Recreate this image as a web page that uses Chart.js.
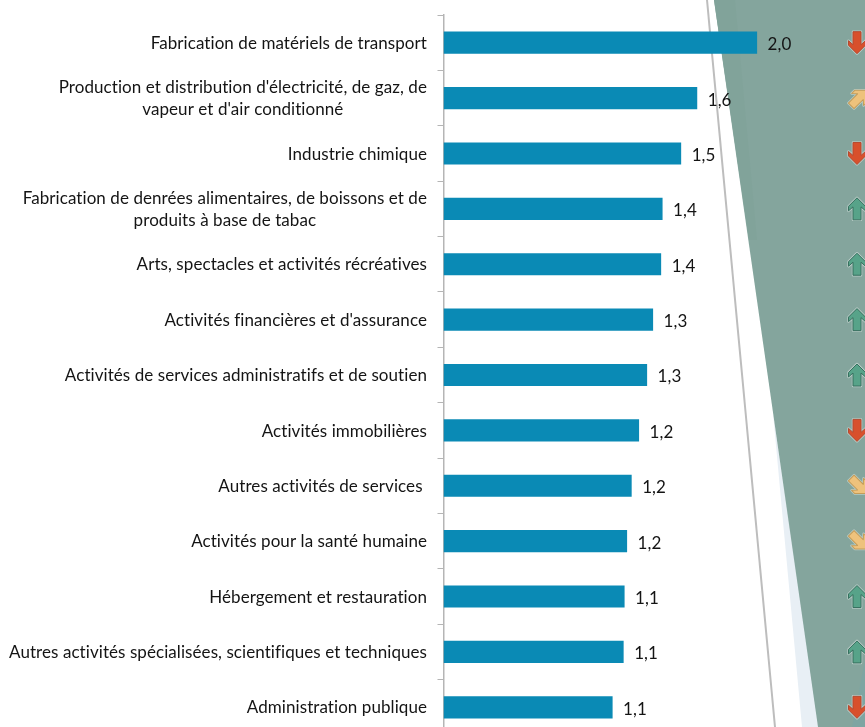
<!DOCTYPE html>
<html lang="fr">
<head>
<meta charset="utf-8">
<title>Activités</title>
<script src="https://cdn.jsdelivr.net/npm/chart.js@4"></script>
<style>
html, body { margin: 0; padding: 0; background: #fff; overflow: hidden; width: 865px; height: 727px; }
canvas { display: block; }
</style>
</head>
<body>
<canvas id="chart" width="865" height="760"></canvas>
<script>
// data
const categories = [
    ['Fabrication de matériels de transport'],
    ["Production et distribution d'électricité, de gaz, de", "vapeur et d'air conditionné"],
    ['Industrie chimique'],
    ['Fabrication de denrées alimentaires, de boissons et de', 'produits à base de tabac'],
    ['Arts, spectacles et activités récréatives'],
    ["Activités financières et d'assurance"],
    ['Activités de services administratifs et de soutien'],
    ['Activités immobilières'],
    ['Autres activités de services '],
    ['Activités pour la santé humaine'],
    ['Hébergement et restauration'],
    ['Autres activités spécialisées, scientifiques et techniques'],
    ['Administration publique']
];
const values = [1.99, 1.61, 1.508, 1.39, 1.381, 1.33, 1.292, 1.241, 1.194, 1.165, 1.149, 1.143, 1.073];
const trends = ['down', 'ne', 'down', 'up', 'up', 'up', 'up', 'down', 'se', 'se', 'up', 'up', 'down'];

const FONT = '17px Lato, sans-serif';
const TEXT = '#141414';
const trendColors = {
    down: ['#d8502c', '#b5492f'],
    up: ['#57a389', '#37705f'],
    ne: ['#eec27c', '#c49c58'],
    se: ['#eec27c', '#c49c58']
};
const trendAngles = { up: 0, ne: Math.PI / 4, se: Math.PI * 3 / 4, down: Math.PI };
const trendX = { up: 857, down: 857, ne: 859, se: 859 };

function poly(ctx, pts, color) {
    ctx.beginPath();
    pts.forEach((p, i) => i ? ctx.lineTo(p[0], p[1]) : ctx.moveTo(p[0], p[1]));
    ctx.closePath();
    ctx.fillStyle = color;
    ctx.fill();
}

// slanted panel behind the chart
const backdrop = {
    id: 'backdrop',
    beforeDraw(chart) {
        const ctx = chart.ctx;
        ctx.save();
        poly(ctx, [[773, 413], [802, 727], [820, 727]], '#e8eff5');
        poly(ctx, [[714, 0], [865, 0], [865, 727], [818, 727]], '#84a59d');
        poly(ctx, [[714, 0], [735, 0], [757, 240], [749, 240]], '#81a39a');
        poly(ctx, [[852, 727], [865, 660], [865, 727]], '#7ea5a2');
        ctx.beginPath();
        ctx.moveTo(707, 0);
        ctx.lineTo(775, 727);
        ctx.strokeStyle = '#bdbdbd';
        ctx.lineWidth = 2;
        ctx.stroke();
        ctx.restore();
    }
};

// category names (second lines are centred under the first), values, trend arrows
const annotations = {
    id: 'annotations',
    afterDatasetsDraw(chart) {
        const ctx = chart.ctx;
        const yScale = chart.scales.y;
        const bars = chart.getDatasetMeta(0).data;
        ctx.save();
        ctx.font = FONT;
        ctx.letterSpacing = '0.07px';
        ctx.textBaseline = 'middle';
        categories.forEach((lines, i) => {
            const y = yScale.getPixelForValue(i);
            const widest = Math.max(...lines.map(l => ctx.measureText(l).width));
            ctx.fillStyle = TEXT;
            ctx.textAlign = 'center';
            lines.forEach((line, k) => {
                ctx.fillText(line, 427 - widest / 2, y + 0.7 + (k - (lines.length - 1) / 2) * 22);
            });
            ctx.textAlign = 'left';
            ctx.fillText(values[i].toFixed(1).replace('.', ','), bars[i].x + 10.5, y + 2);
            drawArrow(ctx, trendX[trends[i]], y, trends[i]);
        });
        ctx.restore();
    }
};

function drawArrow(ctx, x, y, kind) {
    const c = trendColors[kind];
    ctx.save();
    ctx.translate(x, y);
    ctx.rotate(trendAngles[kind]);
    ctx.beginPath();
    [[0, -11], [8.5, -2.5], [8.5, 2], [4, -2], [4, 11], [-4, 11], [-4, -2], [-8.5, 2], [-8.5, -2.5]]
        .forEach((p, i) => i ? ctx.lineTo(p[0], p[1]) : ctx.moveTo(p[0], p[1]));
    ctx.closePath();
    ctx.lineJoin = 'round';
    ctx.strokeStyle = 'rgba(225,235,232,0.55)';
    ctx.lineWidth = 2.5;
    ctx.stroke();
    ctx.fillStyle = c[0];
    ctx.fill();
    ctx.strokeStyle = c[1];
    ctx.lineWidth = 1;
    ctx.stroke();
    ctx.restore();
}

new Chart(document.getElementById('chart'), {
    type: 'bar',
    plugins: [backdrop, annotations],
    data: {
        labels: categories,
        datasets: [{
            data: values,
            backgroundColor: '#0a8ab5',
            barPercentage: 0.4,
            categoryPercentage: 1
        }]
    },
    options: {
        indexAxis: 'y',
        responsive: false,
        animation: false,
        layout: { padding: { top: 15, bottom: 25, left: 0, right: 27.5 } },
        plugins: { legend: { display: false }, tooltip: { enabled: false } },
        scales: {
            x: { display: false, min: 0, max: 2.5 },
            y: {
                afterFit(scale) { scale.width = 443.5; },
                ticks: { display: false },
                grid: { drawOnChartArea: false, color: '#b5b5b5', tickLength: 6 },
                border: { color: '#b5b5b5', width: 1.5 }
            }
        }
    }
});
</script>
</body>
</html>
